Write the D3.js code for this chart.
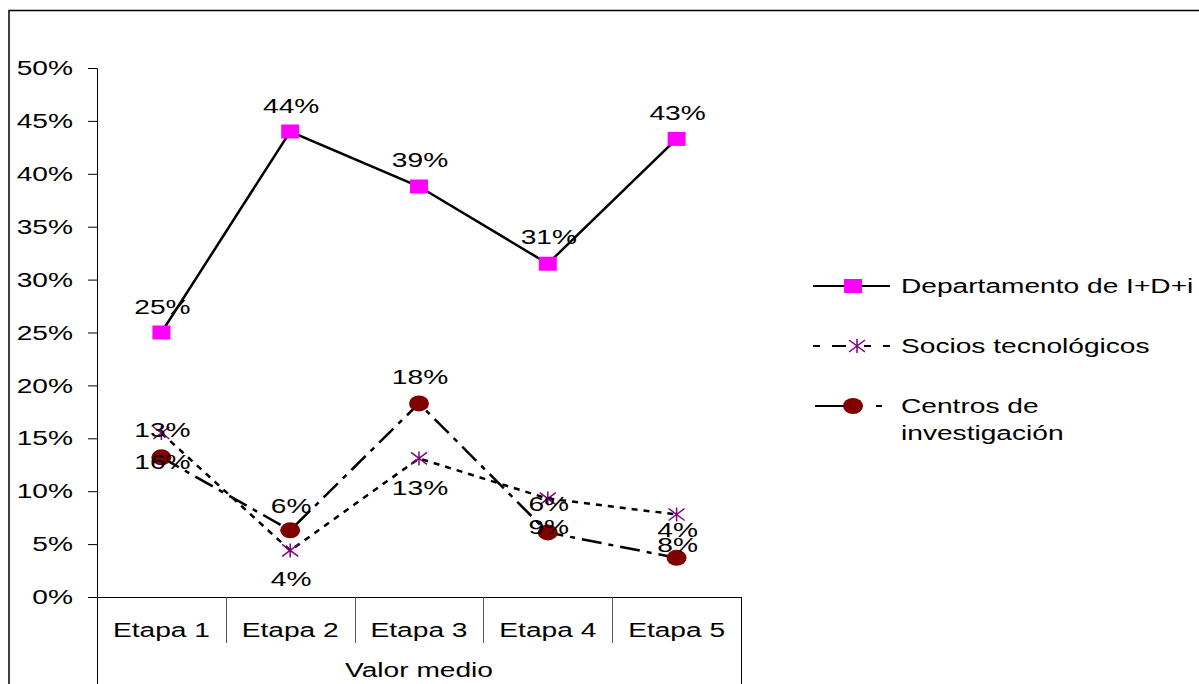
<!DOCTYPE html>
<html><head><meta charset="utf-8">
<script src="https://cdn.jsdelivr.net/npm/d3@7"></script>
<style>
body{margin:0;background:#fff;}
text{font-family:"Liberation Sans",Arial,sans-serif;font-size:21px;fill:#000;}
</style></head>
<body><svg id="c" width="1199" height="684"></svg>
<script>
const categories = ["Etapa 1","Etapa 2","Etapa 3","Etapa 4","Etapa 5"];
const groupLabel = "Valor medio";
const yTicks = [0,0.05,0.10,0.15,0.20,0.25,0.30,0.35,0.40,0.45,0.50];
const seriesNames = ["Departamento de I+D+i","Socios tecnológicos","Centros de investigación"];
const deptValues = [0.250,0.440,0.388,0.315,0.433];
const sociosValues = [0.155,0.044,0.131,0.093,0.078];
const centrosValues = [0.132,0.063,0.183,0.061,0.037];
const deptLabels = ["25%","44%","39%","31%","43%"];
const sociosLabels = ["13%","4%","13%","6%","4%"];
const centrosLabels = ["16%","6%","18%","9%","8%"];

// layout (not data): label vertical offsets relative to point
const deptDy = [-26,-26,-27,-27,-26];
const sociosDy = [-3,28,29,5,15];
const centrosDy = [4,-25,-27,-6,-13];

const SX = 1.34; // horizontal stretch of original rendering
const svg = d3.select("#c");
// outer frame
svg.append("rect").attr("x",9).attr("y",10.5).attr("width",1300).attr("height",800)
  .attr("fill","none").attr("stroke","#000").attr("stroke-width",1.5);

const x = d3.scaleBand().domain(categories).range([97,741]);
const y = d3.scaleLinear().domain([0,0.5]).range([597,68]);

function txt(g, s, px, py, anchor){
  const t = g.append("text").attr("transform",`translate(${px},${py}) scale(${SX},1)`)
    .attr("text-anchor",anchor||"middle").attr("dominant-baseline","central").text(s);
  return t;
}

// y axis
const yAxis = d3.axisLeft(y).tickValues(yTicks).tickSize(9).tickFormat(d3.format(".0%"));
const ga = svg.append("g").attr("transform","translate(97,0)").call(yAxis);
ga.select(".domain").attr("stroke","#000").attr("d","M-9,597.5H0.5V68.5H-9");
ga.selectAll(".tick line").attr("stroke","#000");
ga.selectAll(".tick text").remove();
yTicks.forEach(t=>txt(svg, d3.format(".0%")(t), 73, y(t), "end"));

// x axis
svg.append("line").attr("x1",88).attr("x2",741).attr("y1",597.5).attr("y2",597.5).attr("stroke","#000");
const bounds = categories.map(c=>x(c)).concat([x.range()[1]]);
bounds.forEach((b,i)=>{
  const outer = i===0 || i===bounds.length-1;
  svg.append("line").attr("x1",Math.round(b)+0.5).attr("x2",Math.round(b)+0.5)
    .attr("y1",597).attr("y2",outer?684:643).attr("stroke",outer?"#000":"#555").attr("stroke-width",1);
});
categories.forEach(c=>txt(svg,c,x(c)+x.bandwidth()/2,630));
txt(svg,groupLabel,(x.range()[0]+x.range()[1])/2,670);

const cx = c=>x(c)+x.bandwidth()/2;
const line = d3.line().x((d,i)=>cx(categories[i])).y(d=>y(d));

const series = [
  {vals:deptValues, labels:deptLabels, dy:deptDy, dash:null, marker:"square", color:"#FF00FF"},
  {vals:sociosValues, labels:sociosLabels, dy:sociosDy, dash:"6,6", marker:"star", color:"#800080"},
  {vals:centrosValues, labels:centrosLabels, dy:centrosDy, dash:"20,7,5,7", marker:"circle", color:"#800000"}
];

function drawMarker(g, type, px, py, color){
  if(type==="square"){
    g.append("rect").attr("x",px-9).attr("y",py-7).attr("width",18).attr("height",14).attr("fill",color);
  } else if(type==="circle"){
    g.append("ellipse").attr("cx",px).attr("cy",py).attr("rx",10).attr("ry",8).attr("fill",color);
  } else {
    const p = `M${px-8},${py-6}L${px+8},${py+6}M${px-8},${py+6}L${px+8},${py-6}M${px},${py-7}L${px},${py+7}`;
    g.append("path").attr("d",p).attr("stroke",color).attr("stroke-width",1.5).attr("fill","none");
  }
}

// lines (draw lower series first)
[2,1,0].forEach(k=>{
  const s = series[k];
  svg.append("path").attr("d",line(s.vals)).attr("fill","none").attr("stroke","#000")
    .attr("stroke-width",2.5).attr("stroke-dasharray",s.dash);
});
[2,1,0].forEach(k=>{
  const s = series[k];
  s.vals.forEach((v,i)=>drawMarker(svg,s.marker,cx(categories[i]),y(v),s.color));
});
series.forEach(s=>{
  s.vals.forEach((v,i)=>txt(svg,s.labels[i],cx(categories[i])+1,y(v)+s.dy[i]));
});

// legend
const legY = [286,346,406];
series.forEach((s,k)=>{
  const ly = legY[k];
  if(k===0){
    svg.append("line").attr("x1",813).attr("x2",890).attr("y1",ly).attr("y2",ly).attr("stroke","#000").attr("stroke-width",2);
  } else if(k===1){
    [[813,820],[832,846],[864,871],[883,890]].forEach(p=>svg.append("line").attr("x1",p[0]).attr("x2",p[1]).attr("y1",ly).attr("y2",ly).attr("stroke","#000").attr("stroke-width",2));
  } else {
    [[815,848],[876,882]].forEach(p=>svg.append("line").attr("x1",p[0]).attr("x2",p[1]).attr("y1",ly).attr("y2",ly).attr("stroke","#000").attr("stroke-width",2));
  }
  drawMarker(svg,s.marker,k===0?853:k===1?857:853,ly,s.color);
});
txt(svg,seriesNames[0],901,286,"start");
txt(svg,seriesNames[1],901,346,"start");
txt(svg,"Centros de",901,406,"start");
txt(svg,"investigación",901,433,"start");
</script></body></html>
